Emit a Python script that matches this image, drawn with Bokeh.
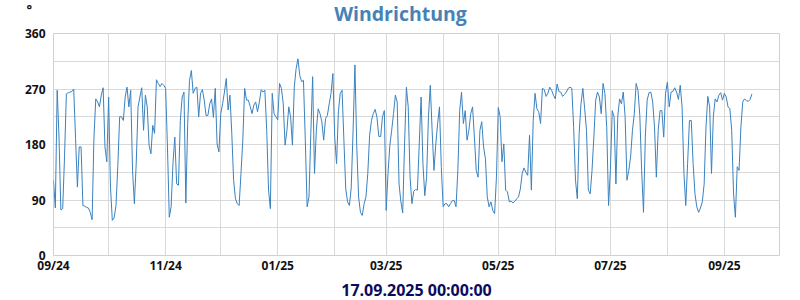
import pandas as pd
from bokeh.plotting import figure
from bokeh.models import FixedTicker, Label, Title, Range1d
from bokeh.embed import file_html
from bokeh.resources import INLINE

# Daily wind direction (degrees), starting 2024-09-01
start_date = "2024-09-01"
wind_deg = [
    122, 77, 268, 192, 74, 76, 160, 262, 264, 265,
    266, 270, 190, 111, 176, 176, 81, 80, 78, 77,
    70, 58, 190, 254, 249, 241, 260, 272, 176, 152,
    257, 111, 57, 61, 81, 146, 225, 225, 219, 257,
    273, 241, 268, 138, 84, 149, 241, 257, 272, 203,
    260, 241, 179, 165, 211, 198, 285, 279, 274, 279,
    276, 271, 176, 62, 79, 149, 192, 116, 114, 219,
    257, 265, 85, 214, 284, 300, 263, 271,
    273, 225, 263, 269, 252, 227, 227, 246, 254, 224,
    271, 181, 168, 230, 246, 265, 287, 236, 260, 198,
    122, 92, 84, 81, 133, 187, 271, 252, 252, 242,
    230, 244, 249, 233, 249, 269, 265, 268, 203, 106,
    76, 263, 230, 225, 220, 279, 271, 246, 179, 203,
    241, 225, 179, 273, 303, 319, 292, 282, 284, 187,
    79, 95, 198, 290, 133, 203, 238, 230, 217, 187,
    222, 227, 246, 263, 295, 192,
    149, 233, 263, 268, 187, 108, 87, 81, 111, 203,
    309, 176, 95, 70, 65, 84, 95, 133, 195, 219,
    230, 237, 224, 193, 193, 225, 235, 73, 133, 179,
    203, 230, 260, 249, 116, 87, 69, 181, 273, 241,
    127, 84, 104, 107, 106, 181, 257, 149, 97, 127,
    225, 276, 203, 138, 181, 214, 241, 143, 79, 84,
    84, 79, 84, 89, 89, 79, 138, 235, 265, 214,
    235, 187, 203, 230, 241, 192,
    138, 127, 203, 217, 176, 157, 95, 79, 87, 73,
    68, 127, 240, 225, 152, 181, 106, 103, 87, 88,
    85, 88, 92, 95, 108, 133, 142, 135, 130, 195,
    106, 219, 263, 238, 233, 214, 271, 269, 258, 263,
    273, 268, 260, 254, 278, 266, 265, 258, 261, 265,
    271, 273, 271, 208, 122, 92, 198, 246, 271, 238,
    203, 106, 100, 138, 192, 252, 265, 257, 230, 279,
    263, 208, 81, 140, 235, 225,
    116, 225, 254, 246, 265, 225, 122, 138, 160, 203,
    230, 279, 268, 227, 138, 70, 192, 252, 264, 265,
    249, 208, 127, 203, 235, 235, 192, 263, 281, 241,
    265, 266, 272, 265, 253, 276, 241, 133, 81, 149,
    219, 219, 149, 100, 79, 70, 77, 87, 116, 208,
    258, 241, 133, 225, 254, 249, 260, 264, 252, 263,
    257, 241, 238, 203, 100, 62, 144, 138, 208, 249,
    254, 251, 250, 253, 262,
]

x_start = "2024-09-01"
x_end = "2025-10-01"
y_ticks = [0, 90, 180, 270, 360]
y_grid = [0, 45, 90, 135, 180, 225, 270, 315, 360]
x_tick_dates = ["2024-09-01", "2024-11-01", "2025-01-01", "2025-03-01",
                "2025-05-01", "2025-07-01", "2025-09-01"]
x_tick_labels = ["09/24", "11/24", "01/25", "03/25", "05/25", "07/25", "09/25"]
title_text = "Windrichtung"
unit_text = "°"
footer_text = "17.09.2025 00:00:00"

dates = pd.date_range(start_date, periods=len(wind_deg), freq="D")


def to_ms(d):
    return float(pd.Timestamp(d).value // 10**6)


FONT = "Open Sans"

p = figure(width=800, height=300, x_axis_type="datetime",
           output_backend="svg", toolbar_location=None,
           x_range=Range1d(pd.Timestamp(x_start), pd.Timestamp(x_end)),
           y_range=Range1d(0, 360),
           min_border_left=53, min_border_right=21,
           min_border_top=33, min_border_bottom=44)

p.line(dates, wind_deg, line_width=1, color="#3a82bf")

# axes
tick_ms = [to_ms(d) for d in x_tick_dates]
p.xaxis.ticker = FixedTicker(ticks=tick_ms)
p.xaxis.major_label_overrides = {t: l for t, l in zip(tick_ms, x_tick_labels)}
month_ms = [to_ms(d) for d in pd.date_range(x_start, x_end, freq="MS")]
p.xgrid.ticker = FixedTicker(ticks=month_ms)
p.yaxis.ticker = FixedTicker(ticks=y_ticks)
p.ygrid.ticker = FixedTicker(ticks=y_grid)

for ax in (p.xaxis[0], p.yaxis[0]):
    ax.axis_line_color = None
    ax.major_tick_line_color = None
    ax.minor_tick_line_color = None
    ax.major_tick_out = 0
    ax.major_tick_in = 0
    ax.minor_tick_out = 0
    ax.major_label_text_font = FONT
    ax.major_label_text_font_style = "bold"
    ax.major_label_text_font_size = "12px"
    ax.major_label_text_color = "#111111"
p.xaxis.major_label_standoff = 1
p.yaxis.major_label_standoff = 8

p.xgrid.grid_line_color = "#d9d9d9"
p.ygrid.grid_line_color = "#d9d9d9"
p.outline_line_color = "#d0d0d0"
p.background_fill_color = "white"
p.border_fill_color = "white"

# main title: a label in the top side panel (not clipped to the frame)
p.add_layout(Label(x=347, y=20, x_units="screen", y_units="screen",
                   text=title_text, text_align="center",
                   text_baseline="alphabetic", text_font=FONT,
                   text_font_size="19.5px", text_font_style="bold",
                   text_color="#4682b4"), "above")

# footer
p.add_layout(Title(text=footer_text, align="center", standoff=0,
                   text_font=FONT, text_font_size="16px",
                   text_font_style="bold", text_color="#0b0b5e"), "below")

# unit sign in the left side panel
p.add_layout(Label(x=11, y=247, x_units="screen", y_units="screen",
                   text=unit_text, text_baseline="alphabetic",
                   text_font=FONT, text_font_size="13px",
                   text_font_style="bold", text_color="#111111"), "left")

open("out.html", "w").write(file_html(p, INLINE))
